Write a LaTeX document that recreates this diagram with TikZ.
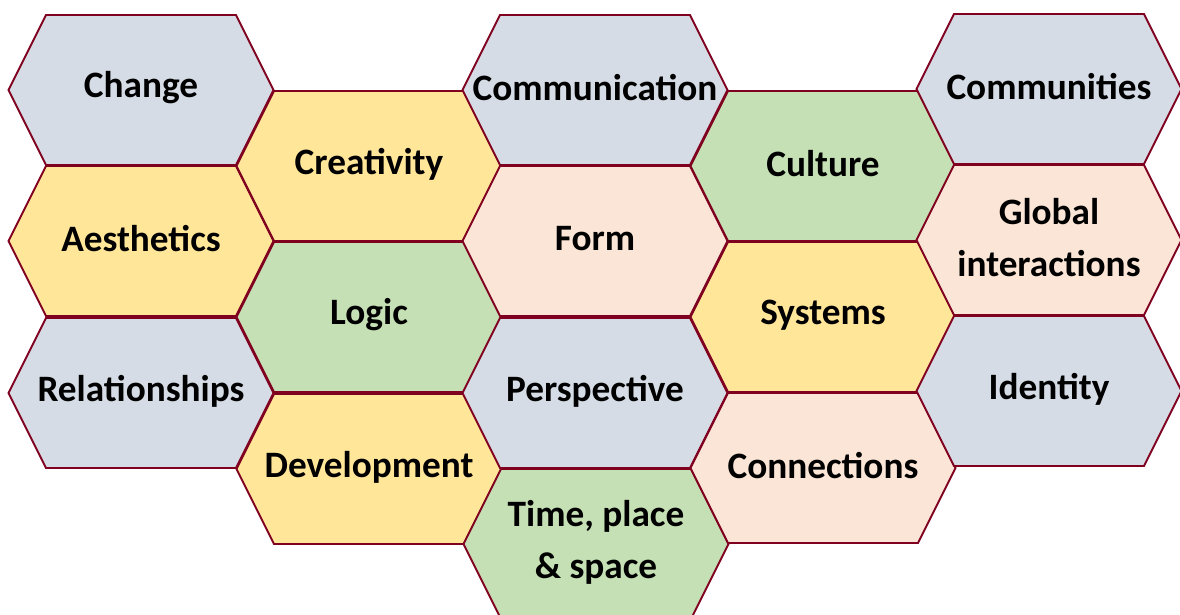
\documentclass[tikz,border=0pt]{standalone}
\usepackage{fontspec}
\setmainfont{Carlito}
\usepackage{tikz}
\definecolor{hexred}{HTML}{800020}
\definecolor{hexgrey}{HTML}{D6DCE5}
\definecolor{hexyellow}{HTML}{FFE699}
\definecolor{hexpink}{HTML}{FBE5D6}
\definecolor{hexgreen}{HTML}{C5E0B4}

\begin{document}
\begin{tikzpicture}[x=0.025cm, y=-0.025cm, % 1px = 0.025cm, y is measured downwards
  cell/.style={draw=hexred, line width=1.4pt}, % hexagon outline
  word/.style={font=\fontsize{26.5}{37}\selectfont\bfseries, align=center}]
  \useasboundingbox (0,0) rectangle (1180,615); % size of the picture

  % centre x / centre y / fill / name / text
  \foreach \cx/\cy/\col/\nm/\txt in {
      141/90/hexgrey/change/Change,
      141/241/hexyellow/aesthetics/Aesthetics,
      141/393/hexgrey/relationships/Relationships,
      369/166/hexyellow/creativity/Creativity,
      369/317/hexgreen/logic/Logic,
      369/469/hexyellow/development/Development,
      595/90/hexgrey/communication/Communication,
      595/241/hexpink/form/Form,
      595/393/hexgrey/perspective/Perspective,
      596/544/hexgreen/time/{Time, place\\\& space},
      823/166/hexgreen/culture/Culture,
      823/317/hexyellow/systems/Systems,
      823/468/hexpink/connections/Connections,
      1049/89/hexgrey/communities/Communities,
      1049/240/hexpink/global/{Global\\interactions},
      1049/391/hexgrey/identity/Identity}
  {
    \draw[cell, fill=\col] (\cx-132.5,\cy) -- ++(37.5,-75) -- ++(190,0) -- ++(37.5,75)
      -- ++(-37.5,75) -- ++(-190,0) -- cycle; % hexagon
    \node[word] (\nm) at (\cx,\cy-2) {\txt}; % text a little above the centre
  }
\end{tikzpicture}
\end{document}
